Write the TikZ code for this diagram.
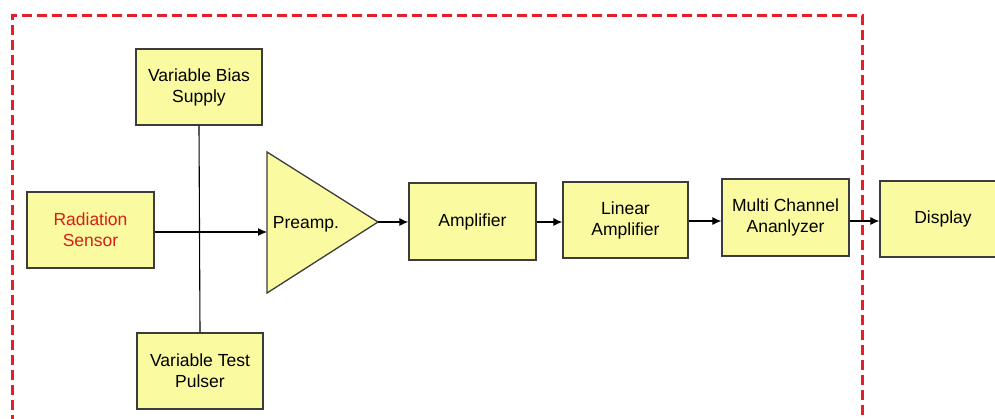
\documentclass[tikz,border=0pt]{standalone}
\usepackage{fontspec}
\setmainfont{Liberation Sans}
\usetikzlibrary{arrows.meta}
\definecolor{boxfill}{RGB}{250,250,160}
\definecolor{boxline}{RGB}{60,60,60}
\definecolor{dashred}{RGB}{230,30,40}
\definecolor{textred}{RGB}{215,30,25}
\begin{document}
\begin{tikzpicture}[x=1pt,y=-1pt,
  blk/.style={draw=boxline,line width=1.3pt,fill=boxfill,minimum width=126pt,minimum height=76pt,
    align=center,inner sep=0pt,font=\fontsize{17.5}{21}\selectfont},
  conn/.style={draw=black,line width=1.1pt},
  arr/.style={conn,-{Latex[length=9pt,width=8pt]}}]
\useasboundingbox (0,0) rectangle (995,418);
\fill[white] (0,0) rectangle (995,418);
% dashed boundary
\draw[dashred,line width=3pt,dash pattern=on 10pt off 5pt] (12,425) -- (12,15) -- (862,15) -- (862,425);
% boxes
\node[blk] (vbs) at (199,87) {Variable Bias\\Supply};
\node[blk,text=textred,minimum width=127pt] (rs) at (90.5,230) {Radiation\\Sensor};
\node[blk] (vtp) at (200,371) {Variable Test\\Pulser};
\node[blk,minimum width=127pt,minimum height=77pt] (amp) at (472.5,221.5) {Amplifier};
\node[blk,minimum width=125pt] (lin) at (625.5,220) {Linear\\Amplifier};
\node[blk,minimum width=127pt,minimum height=77pt] (mca) at (785.5,217.5) {Multi Channel\\Ananlyzer};
\node[blk] (disp) at (943,219) {Display};
% preamp triangle
\coordinate (pin) at (267,232);
\coordinate (pout) at (378,222);
\filldraw[fill=boxfill,draw=boxline,line width=1.3pt,line join=miter] (267,152) -- (378,222) -- (267,293) -- cycle;
\node[font=\fontsize{17.5}{21}\selectfont] (pre) at (306,224) {Preamp.};
% connectors
\draw[conn] (vbs.south) -- (vtp.north);
\draw[arr] (rs.east |- pin) -- (pin);
\draw[arr] (pout) -- (amp.west |- pout);
\draw[arr] (amp.east |- 0,222) -- (lin.west |- 0,222);
\draw[arr] (lin.east |- 0,221) -- (mca.west |- 0,221);
\draw[arr] (mca.east |- 0,221) -- (disp.west |- 0,221);
\end{tikzpicture}
\end{document}
